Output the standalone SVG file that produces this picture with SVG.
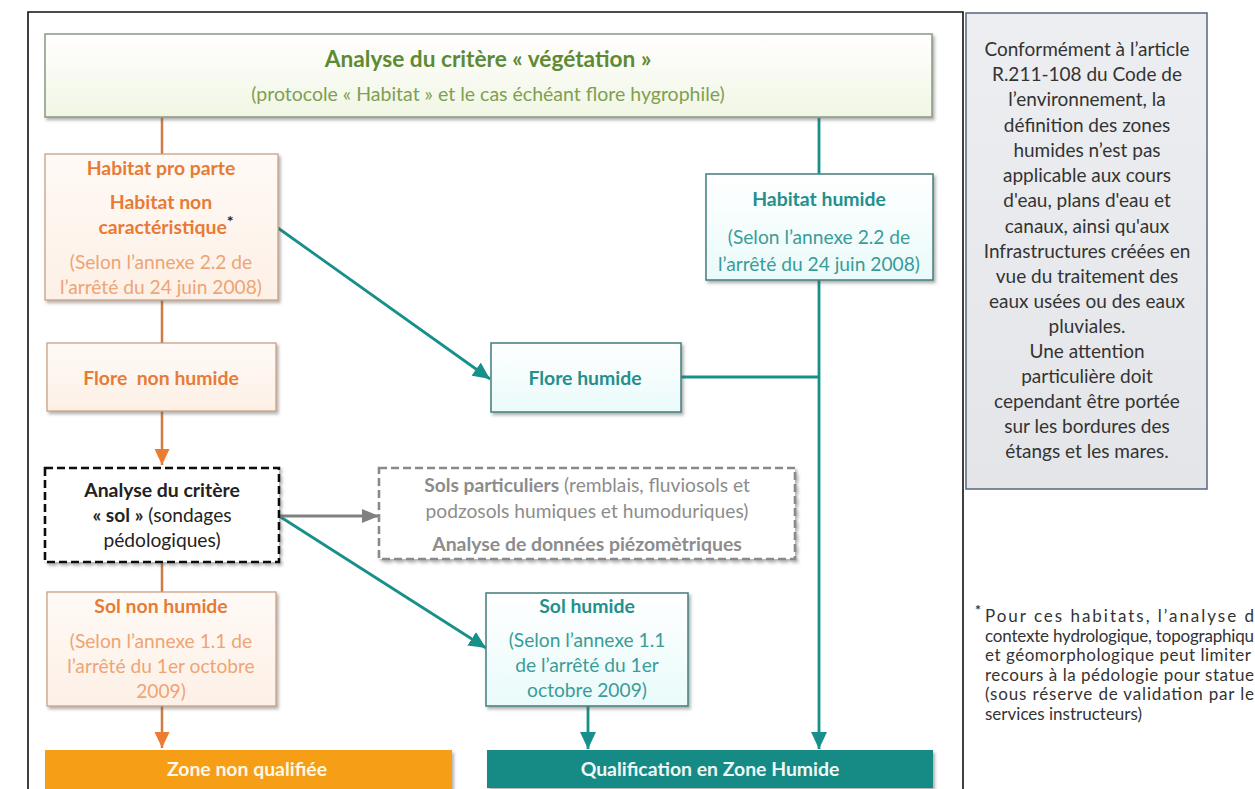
<svg xmlns="http://www.w3.org/2000/svg" width="1255" height="789" viewBox="0 0 1255 789">
<style>
.t{font-family:Lato,"Liberation Sans",sans-serif;text-anchor:middle;font-size:19.2px}
.b{font-weight:bold;font-size:19.4px}
.or{fill:#e77b36}
.orl{fill:#eea474}
.tl{fill:#23908c}
.tll{fill:#3a9c98}
.gr{fill:#8c8c8c}
.bk{fill:#222}
.boxO{fill:url(#gO);stroke:#c9a085;stroke-width:1.3;filter:url(#sh)}
.boxT{fill:url(#gT);stroke:#4b8584;stroke-width:1.6;filter:url(#sh)}
.lnO{stroke:#cf7a45;stroke-width:2.5;fill:none}
.lnT{stroke:#17908b;stroke-width:2.8;fill:none}
.lnG{stroke:#808080;stroke-width:2.8;fill:none}
.note{font-family:Lato,"Liberation Sans",sans-serif;font-size:19px;fill:#333;text-anchor:middle}
.foot{font-family:Lato,"Liberation Sans",sans-serif;font-size:17px;fill:#333}
</style>
<defs>
<filter id="sh" x="-10%" y="-10%" width="125%" height="130%">
<feDropShadow dx="2" dy="2.5" stdDeviation="1.5" flood-color="#555" flood-opacity="0.45"/>
</filter>
<linearGradient id="gV" x1="0" y1="0" x2="0" y2="1"><stop offset="0" stop-color="#ffffff"/><stop offset="1" stop-color="#f1f6e4"/></linearGradient>
<linearGradient id="gO" x1="0" y1="0" x2="0" y2="1"><stop offset="0" stop-color="#fffaf6"/><stop offset="1" stop-color="#fdf0e6"/></linearGradient>
<linearGradient id="gT" x1="0" y1="0" x2="0" y2="1"><stop offset="0" stop-color="#ffffff"/><stop offset="1" stop-color="#eafafa"/></linearGradient>
<linearGradient id="gN" x1="0" y1="0" x2="0" y2="1"><stop offset="0" stop-color="#eceef1"/><stop offset="1" stop-color="#e4e5e8"/></linearGradient>
<marker id="aO" markerUnits="userSpaceOnUse" markerWidth="16" markerHeight="16" viewBox="0 0 16 16" refX="16" refY="8" orient="auto"><path d="M0,0.5 L16,8 L0,15.5 z" fill="#ee7c30"/></marker>
<marker id="aT" markerUnits="userSpaceOnUse" markerWidth="17" markerHeight="17" viewBox="0 0 17 17" refX="17" refY="8.5" orient="auto"><path d="M0,0.5 L17,8.5 L0,16.5 z" fill="#17908b"/></marker>
<marker id="aG" markerUnits="userSpaceOnUse" markerWidth="17" markerHeight="15" viewBox="0 0 17 15" refX="17" refY="7.5" orient="auto"><path d="M0,0.5 L17,7.5 L0,14.5 z" fill="#808080"/></marker>
</defs>

<g id="frame">
<path d="M28,800 L28,12 L963,12 L963,800" fill="none" stroke="#111" stroke-width="1.6"/>
</g>

<g id="connectors">
<line class="lnO" x1="162" y1="118" x2="162" y2="154"/>
<line class="lnO" x1="162" y1="300" x2="162" y2="343"/>
<line class="lnO" x1="162" y1="411" x2="162" y2="465" marker-end="url(#aO)"/>
<line class="lnO" x1="162" y1="562" x2="162" y2="592"/>
<line class="lnO" x1="162" y1="706" x2="162" y2="748" marker-end="url(#aO)"/>
<line class="lnT" x1="819" y1="118" x2="819" y2="174"/>
<line class="lnT" x1="819" y1="280" x2="819" y2="749" marker-end="url(#aT)"/>
<line class="lnT" x1="681" y1="377" x2="819" y2="377"/>
<line class="lnT" x1="278" y1="228" x2="490" y2="379" marker-end="url(#aT)"/>
<line class="lnT" x1="279" y1="516" x2="486" y2="648" marker-end="url(#aT)"/>
<line class="lnG" x1="279" y1="516" x2="379" y2="516" marker-end="url(#aG)"/>
<line class="lnT" x1="588" y1="706" x2="588" y2="749" marker-end="url(#aT)"/>
</g>

<g id="vegetation">
<rect x="45" y="34" width="887" height="83" fill="url(#gV)" stroke="#8a9882" stroke-width="1.5" filter="url(#sh)"/>
<text class="t" x="488" y="67" font-weight="bold" style="font-size:22.7px" fill="#5f8a35">Analyse du critère « végétation »</text>
<text class="t" x="488" y="101" style="font-size:19.5px" fill="#7f9f52">(protocole « Habitat » et le cas échéant flore hygrophile)</text>
</g>

<g id="habitat-pro-parte">
<rect class="boxO" x="45" y="154" width="233" height="146"/>
<text class="t b or" x="161" y="175">Habitat pro parte</text>
<text class="t b or" x="161" y="209">Habitat non</text>
<text class="t b or" x="166" y="234">caractéristique<tspan fill="#222" dy="-7" style="font-size:16px">*</tspan></text>
<text class="t orl" x="161" y="269">(Selon l’annexe 2.2 de</text>
<text class="t orl" x="161" y="294">l’arrêté du 24 juin 2008)</text>
</g>

<g id="habitat-humide">
<rect class="boxT" x="706" y="174" width="227" height="106"/>
<text class="t b tl" x="819" y="206">Habitat humide</text>
<text class="t tll" x="819" y="244">(Selon l’annexe 2.2 de</text>
<text class="t tll" x="819" y="271">l’arrêté du 24 juin 2008)</text>
</g>

<g id="flore-non-humide">
<rect class="boxO" x="47" y="343" width="229" height="68"/>
<text class="t b or" x="161" y="385" xml:space="preserve">Flore  non humide</text>
</g>

<g id="flore-humide">
<rect class="boxT" x="491" y="343" width="190" height="69"/>
<text class="t b tl" x="585" y="385">Flore humide</text>
</g>

<g id="sol">
<rect x="45" y="468" width="234" height="94" fill="#fff" stroke="#111" stroke-width="2.6" stroke-dasharray="8,4" filter="url(#sh)"/>
<text class="t b bk" x="162" y="497">Analyse du critère</text>
<text class="t bk" x="162" y="522"><tspan font-weight="bold">« sol »</tspan> (sondages</text>
<text class="t bk" x="162" y="547">pédologiques)</text>
</g>

<g id="sols-particuliers">
<rect x="379" y="468" width="416" height="91" fill="#fff" stroke="#8a8a8a" stroke-width="2.6" stroke-dasharray="8,4" filter="url(#sh)"/>
<text class="t gr" x="587" y="492"><tspan font-weight="bold">Sols particuliers</tspan> (remblais, fluviosols et</text>
<text class="t gr" x="587" y="518">podzosols humiques et humoduriques)</text>
<text class="t b gr" x="587" y="551">Analyse de données piézomètriques</text>
</g>

<g id="sol-non-humide">
<rect class="boxO" x="47" y="592" width="229" height="114"/>
<text class="t b or" x="161" y="613">Sol non humide</text>
<text class="t orl" x="161" y="648">(Selon l’annexe 1.1 de</text>
<text class="t orl" x="161" y="673">l’arrêté du 1er octobre</text>
<text class="t orl" x="161" y="698">2009)</text>
</g>

<g id="sol-humide">
<rect class="boxT" x="486" y="593" width="202" height="113"/>
<text class="t b tl" x="587" y="613">Sol humide</text>
<text class="t tll" x="587" y="647">(Selon l’annexe 1.1</text>
<text class="t tll" x="587" y="672">de l’arrêté du 1er</text>
<text class="t tll" x="587" y="697">octobre 2009)</text>
</g>

<g id="zone-non-qualifiee">
<rect x="45" y="750" width="407" height="42" fill="#f59e16" filter="url(#sh)"/>
<text class="t b" x="247" y="776" fill="#fff8e6">Zone non qualifiée</text>
</g>

<g id="zone-humide">
<rect x="487" y="750" width="446" height="38" fill="#148a85" filter="url(#sh)"/>
<text class="t b" x="710" y="776" fill="#eef8f7">Qualification en Zone Humide</text>
</g>

<g id="note">
<rect x="966" y="13" width="241" height="476" fill="url(#gN)" stroke="#5f6f86" stroke-width="1.6"/>
<text class="note" x="1087" y="56">Conformément à l’article</text>
<text class="note" x="1087" y="81">R.211-108 du Code de</text>
<text class="note" x="1087" y="106">l’environnement, la</text>
<text class="note" x="1087" y="132">définition des zones</text>
<text class="note" x="1087" y="157">humides n’est pas</text>
<text class="note" x="1087" y="182">applicable aux cours</text>
<text class="note" x="1087" y="207">d'eau, plans d'eau et</text>
<text class="note" x="1087" y="233">canaux, ainsi qu'aux</text>
<text class="note" x="1087" y="258">Infrastructures créées en</text>
<text class="note" x="1087" y="283">vue du traitement des</text>
<text class="note" x="1087" y="308">eaux usées ou des eaux</text>
<text class="note" x="1087" y="333">pluviales.</text>
<text class="note" x="1087" y="358">Une attention</text>
<text class="note" x="1087" y="383">particulière doit</text>
<text class="note" x="1087" y="408">cependant être portée</text>
<text class="note" x="1087" y="433">sur les bordures des</text>
<text class="note" x="1087" y="458">étangs et les mares.</text>
</g>

<g id="footnote">
<text class="foot" x="975" y="615" style="font-size:14px" font-weight="bold">*</text>
<text class="foot" x="985" y="622" textLength="269" lengthAdjust="spacing">Pour ces habitats, l’analyse d</text>
<text class="foot" x="985" y="641.5" textLength="269" lengthAdjust="spacing">contexte hydrologique, topographiqu</text>
<text class="foot" x="985" y="661" textLength="266" lengthAdjust="spacing">et géomorphologique peut limiter</text>
<text class="foot" x="985" y="680.5" textLength="269" lengthAdjust="spacing">recours à la pédologie pour statue</text>
<text class="foot" x="985" y="700" textLength="269" lengthAdjust="spacing">(sous réserve de validation par le</text>
<text class="foot" x="985" y="719.5">services instructeurs)</text>
</g>
</svg>
